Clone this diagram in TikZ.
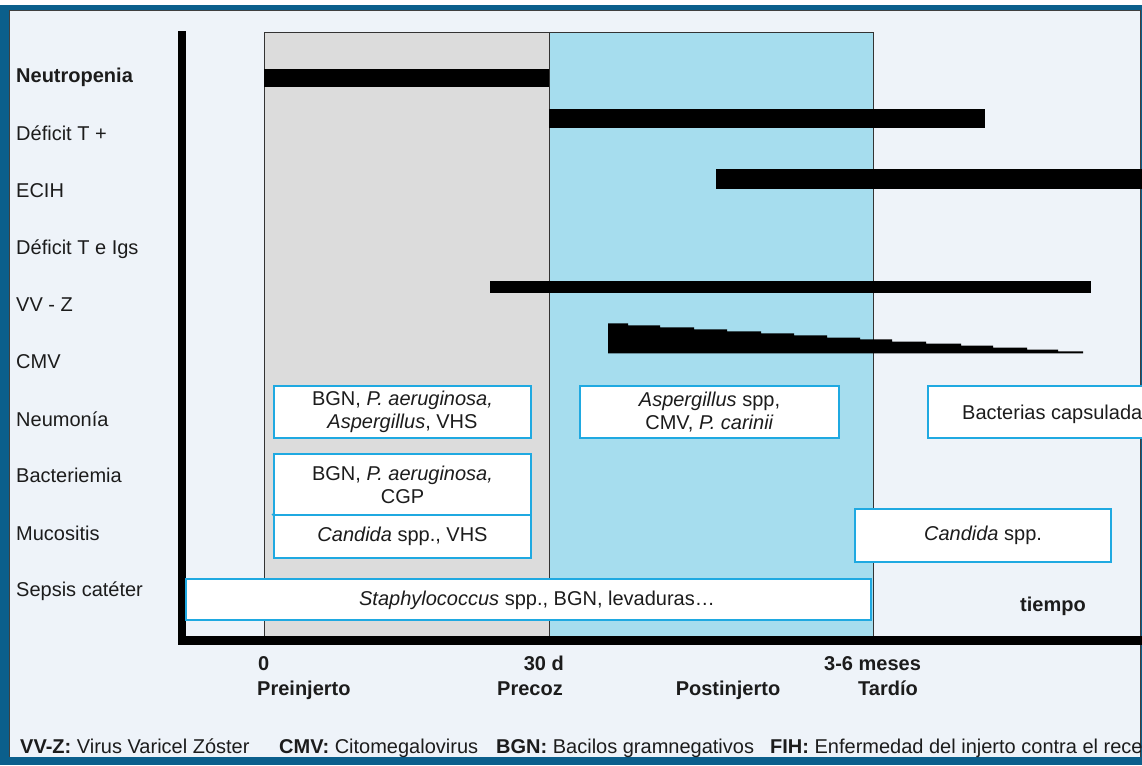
\documentclass[tikz,border=0pt]{standalone}
\usepackage{fontspec}
\setmainfont{Liberation Sans}
\definecolor{frameblue}{HTML}{0B5F8C}
\definecolor{bgpale}{HTML}{EEF3F9}
\definecolor{graybg}{HTML}{DCDCDC}
\definecolor{cyanbg}{HTML}{A6DDEE}
\definecolor{boxline}{HTML}{1FA9E1}
\definecolor{txt}{HTML}{1C1C1C}
\begin{document}
\begin{tikzpicture}[x=1pt,y=-1pt,
  font=\fontsize{20}{23}\selectfont,
  rowlabel/.style={anchor=base west, inner sep=0pt, text=txt},
  infobox/.style={draw=boxline, line width=1.8pt, fill=white, align=center, inner sep=0pt, text=txt},
  axislabel/.style={font=\fontsize{20}{23}\selectfont\bfseries, inner sep=0pt, text=txt},
  legendtext/.style={anchor=base west, inner sep=0pt, text=txt},
  barfill/.style={fill=black}]
\useasboundingbox (0,0) rectangle (1142,765);
\begin{scope}
\clip (0,0) rectangle (1142,765);
% frame
\fill[white] (0,0) rectangle (1142,765);
\fill[frameblue] (0,5) rectangle (1142,765);
\fill[bgpale] (9,10) rectangle (1140,757);
\draw[line width=1pt, black!75] (9.5,757) -- (9.5,10.5) -- (1140,10.5) -- (1140,757);
% phase regions
\fill[graybg] (264,33) rectangle (549,637);
\fill[cyanbg] (549,33) rectangle (873,637);
\draw[line width=1pt, black!80] (264,33) rectangle (873,637);
\draw[line width=1pt, black!80] (549,33) -- (549,637);
% axes
\fill[black] (178,31) rectangle (186,645);
\fill[black] (178,636) rectangle (1142,645);
% bars
\fill[barfill] (264,69) rectangle (549,87);
\fill[barfill] (549,109) rectangle (985,128);
\fill[barfill] (716,169) rectangle (1142,189);
\fill[barfill] (490,281) rectangle (1091,293);
\fill[barfill] (608,353.3) -- (608,323.3) -- (628,323.3)
  -- (628,325.3) -- (660,325.3) -- (660,327.3) -- (694,327.3)
  -- (694,329.3) -- (727,329.3) -- (727,331.3) -- (761,331.3)
  -- (761,333.3) -- (794,333.3) -- (794,335.3) -- (827,335.3)
  -- (827,337.5) -- (860,337.5) -- (860,339.3) -- (892,339.3)
  -- (892,341.5) -- (926,341.5) -- (926,343.6) -- (961,343.6)
  -- (961,345.6) -- (993,345.6) -- (993,347.6) -- (1027,347.6)
  -- (1027,349.5) -- (1058,349.5) -- (1058,351.3) -- (1083,351.3)
  -- (1083,353.3) -- cycle;
% row labels
\node[rowlabel, font=\fontsize{20}{23}\selectfont\bfseries] (r1) at (16,83) {Neutropenia};
\node[rowlabel] (r2) at (16,140) {Déficit T +};
\node[rowlabel] (r3) at (16,197) {ECIH};
\node[rowlabel] (r4) at (16,254) {Déficit T e Igs};
\node[rowlabel] (r5) at (16,311) {VV - Z};
\node[rowlabel] (r6) at (16,368) {CMV};
\node[rowlabel] (r7) at (16,426) {Neumonía};
\node[rowlabel] (r8) at (16,482) {Bacteriemia};
\node[rowlabel] (r9) at (16,540) {Mucositis};
\node[rowlabel] (r10) at (16,596) {Sepsis catéter};
% boxes
\node[infobox, minimum width=257pt, minimum height=52pt] (b1) at (402.5,412)
  {BGN, \textit{P. aeruginosa,}\\\textit{Aspergillus}, VHS};
\node[infobox, minimum width=259pt, minimum height=52pt] (b2) at (709.5,412)
  {\textit{Aspergillus} spp,\\CMV, \textit{P. carinii}};
\draw[draw=boxline, line width=1.8pt, fill=white] (928,386) rectangle (1160,438);
\node[rowlabel] (b3) at (962,419) {Bacterias capsulada};
\node[infobox, minimum width=257pt, minimum height=61pt] (b4) at (402.5,484.5)
  {BGN, \textit{P. aeruginosa,}\\CGP};
\node[infobox, minimum width=257pt, minimum height=43pt] (b5) at (402.5,536.5)
  {\textit{Candida} spp., VHS};
\draw[draw=boxline, line width=1.5pt] (272,515) -- (b5.north west);
\node[infobox, minimum width=256pt, minimum height=53pt] (b6) at (983,535.5)
  {\textit{Candida} spp.};
\node[infobox, minimum width=685pt, minimum height=41pt] (b7) at (528.5,599.5) {};
\node[inner sep=0pt, text=txt] (b7t) at (537,600) {\textit{Staphylococcus} spp., BGN, levaduras…};
% axis labels
\node[axislabel, anchor=base west] (t0) at (258,670) {0};
\node[axislabel, anchor=base west] (p0) at (257,695) {Preinjerto};
\node[axislabel, anchor=base east] (t30) at (564,670) {30 d};
\node[axislabel, anchor=base east] (p30) at (563,695) {Precoz};
\node[axislabel, anchor=base] (ppost) at (728,695) {Postinjerto};
\node[axislabel, anchor=base west] (t36) at (824,670) {3-6 meses};
\node[axislabel, anchor=base west] (p36) at (858,695) {Tardío};
\node[axislabel, anchor=base] (tiempo) at (1053,611) {tiempo};
% legend
\node[legendtext] (lg1) at (20,753) {\textbf{VV-Z:} Virus Varicel Zóster};
\node[legendtext] (lg2) at (279,753) {\textbf{CMV:} Citomegalovirus};
\node[legendtext] (lg3) at (496,753) {\textbf{BGN:} Bacilos gramnegativos};
\node[legendtext] (lg4) at (770,753) {\textbf{FIH:} Enfermedad del injerto contra el rece};
\end{scope}
\end{tikzpicture}
\end{document}
